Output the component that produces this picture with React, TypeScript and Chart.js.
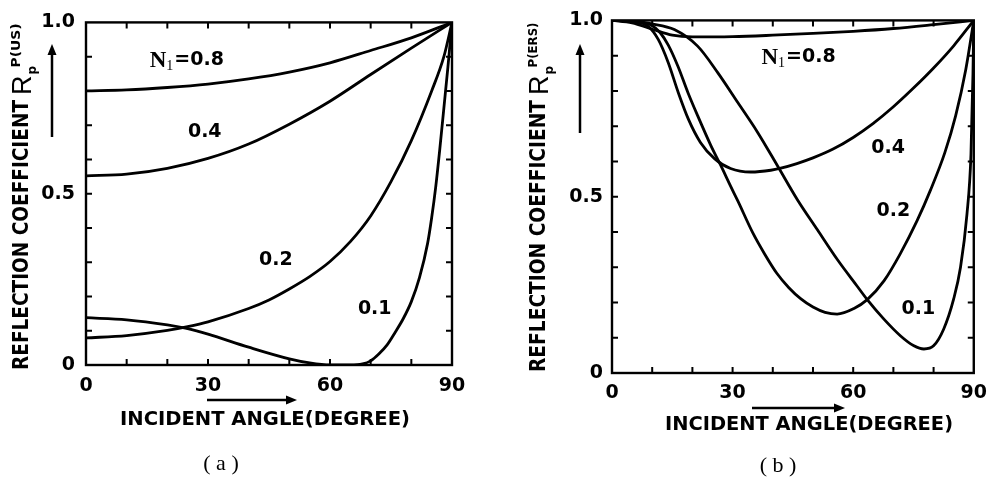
import React, { useEffect, useRef } from "react";
import { Chart, registerables } from "chart.js";
Chart.register(...registerables);

// ---------- Panel (a): R_p^{P(US)} ----------
const A_N08_DEG = [0, 10, 20, 30, 40, 50, 60, 70, 80, 90];
const A_N08_R = [0.8, 0.803, 0.81, 0.82, 0.835, 0.855, 0.882, 0.918, 0.955, 1.0];
const A_N04_DEG = [0, 10, 20, 30, 40, 50, 60, 70, 80, 90];
const A_N04_R = [0.552, 0.557, 0.574, 0.603, 0.645, 0.703, 0.77, 0.848, 0.925, 1.0];
const A_N02_DEG = [0, 10, 20, 25, 30, 40, 45, 50, 55, 60, 65, 70, 75, 80, 85, 88, 90];
const A_N02_R = [0.079, 0.086, 0.101, 0.112, 0.126, 0.165, 0.19, 0.222, 0.258, 0.302, 0.36, 0.435, 0.535, 0.655, 0.8, 0.9, 1.0];
const A_N01_DEG = [0, 10, 20, 25, 30, 40, 50, 55, 60, 65, 68, 70, 72, 74, 76, 78, 80, 82, 84, 85, 86, 87, 88, 89, 90];
const A_N01_R = [0.138, 0.132, 0.117, 0.106, 0.09, 0.052, 0.018, 0.006, 0.0, 0.0, 0.003, 0.012, 0.032, 0.058, 0.095, 0.135, 0.185, 0.255, 0.355, 0.43, 0.52, 0.63, 0.75, 0.87, 1.0];

// ---------- Panel (b): R_p^{P(ERS)} ----------
const B_N08_DEG = [0, 5, 10, 15, 20, 30, 40, 50, 60, 70, 80, 90];
const B_N08_R = [1.0, 0.993, 0.975, 0.958, 0.953, 0.954, 0.958, 0.963, 0.969, 0.977, 0.988, 1.0];
const B_N04_DEG = [0, 5, 9, 11.5, 14, 16.5, 19, 22, 25.5, 29.5, 34.5, 39.5, 42, 46, 50, 55, 60, 65, 70, 75, 80, 85, 90];
const B_N04_R = [1.0, 0.997, 0.983, 0.946, 0.88, 0.795, 0.72, 0.654, 0.608, 0.58, 0.57, 0.575, 0.581, 0.594, 0.61, 0.635, 0.668, 0.708, 0.755, 0.808, 0.865, 0.928, 1.0];
const B_N02_DEG = [0, 5, 10, 12, 14, 16.4, 18.9, 21.3, 24.6, 27, 29.5, 31.3, 35, 38, 41, 44, 47, 50, 53, 56, 60.2, 63.5, 67.7, 71.7, 75.9, 79.2, 82.8, 85.5, 88, 90];
const B_N02_R = [1.0, 0.997, 0.985, 0.965, 0.93, 0.87, 0.795, 0.73, 0.645, 0.59, 0.53, 0.488, 0.398, 0.337, 0.283, 0.242, 0.21, 0.187, 0.172, 0.167, 0.183, 0.208, 0.262, 0.338, 0.432, 0.518, 0.625, 0.73, 0.86, 1.0];
const B_N01_DEG = [0, 5, 10, 15.5, 21.3, 26.3, 31.3, 36.2, 41.2, 46.2, 51.1, 56.1, 61, 63.5, 67.7, 71.8, 75.1, 77.6, 80, 82.5, 85, 86.7, 88.3, 89.3, 89.8, 90];
const B_N01_R = [1.0, 0.998, 0.99, 0.974, 0.927, 0.852, 0.767, 0.683, 0.587, 0.49, 0.406, 0.321, 0.246, 0.208, 0.152, 0.105, 0.077, 0.068, 0.077, 0.124, 0.21, 0.3, 0.45, 0.62, 0.85, 1.0];

// curve labels: [text, angle, R]
const A_LABELS: [string, number, number][] = [
  ["N1=0.8", 24.8, 0.889],
  ["0.4", 29.2, 0.681],
  ["0.2", 46.7, 0.305],
  ["0.1", 71, 0.162],
];
const B_LABELS: [string, number, number][] = [
  ["N1=0.8", 46.4, 0.896],
  ["0.4", 68.7, 0.639],
  ["0.2", 70, 0.459],
  ["0.1", 76.2, 0.18],
];

const X_TICK_STEP = 10;
const X_LABELED = [0, 30, 60, 90];
const Y_TICK_STEP = 0.1;
const Y_LABELS: [number, string][] = [[0, "0"], [0.5, "0.5"], [1, "1.0"]];

const SANS = '"DejaVu Sans", "Liberation Sans", sans-serif';

function zip(xs: number[], ys: number[]) {
  return xs.map((x, i) => ({ x, y: ys[i] }));
}

function arrow(ctx: CanvasRenderingContext2D, x1: number, y1: number, x2: number, y2: number) {
  const ang = Math.atan2(y2 - y1, x2 - x1);
  const hl = 11, hw = 4.5;
  ctx.beginPath();
  ctx.moveTo(x1, y1);
  ctx.lineTo(x2 - Math.cos(ang) * hl * 0.8, y2 - Math.sin(ang) * hl * 0.8);
  ctx.stroke();
  ctx.beginPath();
  ctx.moveTo(x2, y2);
  ctx.lineTo(x2 - Math.cos(ang) * hl - Math.sin(ang) * hw, y2 - Math.sin(ang) * hl + Math.cos(ang) * hw);
  ctx.lineTo(x2 - Math.cos(ang) * hl + Math.sin(ang) * hw, y2 - Math.sin(ang) * hl - Math.cos(ang) * hw);
  ctx.closePath();
  ctx.fill();
}

const decorPlugin = {
  id: "decor",
  afterDraw(chart: any, _args: any, o: any) {
    const { ctx, chartArea: ca, scales } = chart;
    const xs = scales.x, ys = scales.y;
    ctx.save();
    ctx.strokeStyle = "#000";
    ctx.fillStyle = "#000";
    ctx.lineCap = "butt";
    // frame
    ctx.lineWidth = 2.4;
    ctx.strokeRect(ca.left, ca.top, ca.right - ca.left, ca.bottom - ca.top);
    // inward ticks on all four sides
    ctx.lineWidth = 2;
    const tl = 6;
    xs.ticks.forEach((t: any) => {
      if (t.value <= xs.min || t.value >= xs.max) return;
      const px = xs.getPixelForValue(t.value);
      ctx.beginPath();
      ctx.moveTo(px, ca.bottom); ctx.lineTo(px, ca.bottom - tl);
      ctx.moveTo(px, ca.top); ctx.lineTo(px, ca.top + tl);
      ctx.stroke();
    });
    ys.ticks.forEach((t: any) => {
      if (t.value <= ys.min + 1e-6 || t.value >= ys.max - 1e-6) return;
      const py = ys.getPixelForValue(t.value);
      ctx.beginPath();
      ctx.moveTo(ca.left, py); ctx.lineTo(ca.left + tl, py);
      ctx.moveTo(ca.right, py); ctx.lineTo(ca.right - tl, py);
      ctx.stroke();
    });

    // curve labels
    ctx.textBaseline = "middle";
    (o.labels as [string, number, number][]).forEach(([txt, d, r]) => {
      const px = xs.getPixelForValue(d);
      const py = ys.getPixelForValue(r);
      if (txt.startsWith("N1")) {
        const rest = txt.slice(2);
        ctx.font = 'bold 23px "Liberation Serif", serif';
        const wN = ctx.measureText("N").width;
        ctx.font = '14px "Liberation Serif", serif';
        const w1 = ctx.measureText("1").width;
        ctx.font = "bold 19px " + SANS;
        const wr = ctx.measureText(rest).width;
        const total = wN + w1 + 1 + wr;
        let x = px - total / 2;
        ctx.textAlign = "left";
        ctx.font = 'bold 23px "Liberation Serif", serif';
        ctx.fillText("N", x, py + 1);
        x += wN;
        ctx.font = '14px "Liberation Serif", serif';
        ctx.fillText("1", x, py + 6);
        x += w1 + 1;
        ctx.font = "bold 19px " + SANS;
        ctx.fillText(rest, x, py);
      } else {
        ctx.textAlign = "center";
        ctx.font = "bold 19px " + SANS;
        ctx.fillText(txt, px, py);
      }
    });

    // x-axis title + arrow
    ctx.font = "bold 20px " + SANS;
    ctx.textAlign = "center";
    const xt = "INCIDENT ANGLE(DEGREE)";
    const xw = ctx.measureText(xt).width;
    ctx.save();
    ctx.translate(o.xTitle.cx, o.xTitle.cy);
    ctx.scale(o.xTitle.len / xw, 1);
    ctx.fillText(xt, 0, 0);
    ctx.restore();
    ctx.lineWidth = 2.5;
    arrow(ctx, o.xArrow.x1, o.xArrow.y, o.xArrow.x2, o.xArrow.y);

    // y-axis title (rotated)
    ctx.save();
    ctx.translate(o.yTitle.cx, o.yTitle.y0);
    ctx.rotate(-Math.PI / 2);
    ctx.textAlign = "left";
    ctx.textBaseline = "middle";
    ctx.font = "bold 21px " + SANS;
    const yt = "REFLECTION COEFFICIENT";
    const yw = ctx.measureText(yt).width;
    ctx.save();
    ctx.scale(o.yTitle.len / yw, 1);
    ctx.fillText(yt, 0, 0);
    ctx.restore();
    let u = o.yTitle.len + 5;
    ctx.font = '27px "Liberation Sans", sans-serif';
    ctx.fillText("R", u, 1);
    u += ctx.measureText("R").width + 1;
    ctx.font = "bold 12px " + SANS;
    ctx.fillText("p", u, 10);
    u += 7;
    ctx.font = "bold 12px " + SANS;
    const sw = ctx.measureText(o.yTitle.sup).width;
    ctx.save();
    ctx.translate(u, -6);
    ctx.scale(o.yTitle.supLen / sw, 1);
    ctx.fillText(o.yTitle.sup, 0, 0);
    ctx.restore();
    ctx.restore();
    ctx.lineWidth = 2.5;
    arrow(ctx, o.yArrow.x, o.yArrow.y1, o.yArrow.x, o.yArrow.y2);

    // caption
    ctx.font = '22px "Liberation Serif", serif';
    ctx.textAlign = "center";
    ctx.textBaseline = "middle";
    ctx.fillText(o.caption.text, o.caption.x, o.caption.y);
    ctx.restore();
  },
};

function buildConfig(p: any) {
  const ds = (deg: number[], r: number[]) => ({
    data: zip(deg, r),
    borderColor: "#000",
    borderWidth: 2.8,
    pointRadius: 0,
    fill: false,
    cubicInterpolationMode: "monotone",
  });
  return {
    type: "line",
    data: { datasets: p.series.map(([d, r]: [number[], number[]]) => ds(d, r)) },
    options: {
      animation: false,
      responsive: false,
      devicePixelRatio: 1,
      events: [],
      layout: { padding: p.padding },
      plugins: {
        legend: { display: false },
        tooltip: { enabled: false },
        decor: p.decor,
      },
      scales: {
        x: {
          type: "linear",
          min: 0,
          max: 90,
          afterFit: (s: any) => { s.height = p.xHeight; },
          grid: { display: false, drawTicks: false },
          border: { display: false },
          ticks: {
            stepSize: X_TICK_STEP,
            autoSkip: false,
            maxRotation: 0,
            padding: p.xPad,
            color: "#000",
            font: { family: SANS, size: 19, weight: "bold" },
            callback: (v: number) => (X_LABELED.includes(Math.round(v)) ? String(Math.round(v)) : ""),
          },
        },
        y: {
          type: "linear",
          min: 0,
          max: 1,
          afterFit: (s: any) => { s.width = p.yWidth; },
          grid: { display: false, drawTicks: false },
          border: { display: false },
          ticks: {
            stepSize: Y_TICK_STEP,
            autoSkip: false,
            padding: p.yPad,
            color: "#000",
            font: { family: SANS, size: 19, weight: "bold" },
            callback: (v: number) => {
              const f = Y_LABELS.find(([k]) => Math.abs(k - v) < 1e-6);
              return f ? f[1] : "";
            },
          },
        },
      },
    },
    plugins: [decorPlugin],
  };
}

const PANEL_A = {
  series: [[A_N08_DEG, A_N08_R], [A_N04_DEG, A_N04_R], [A_N02_DEG, A_N02_R], [A_N01_DEG, A_N01_R]],
  padding: { left: 0, right: 46, top: 13, bottom: 0 },
  xHeight: 119,
  yWidth: 86,
  xPad: 10,
  yPad: 11,
  decor: {
    labels: A_LABELS,
    xTitle: { cx: 265, cy: 420, len: 290 },
    xArrow: { x1: 207, x2: 297, y: 400 },
    yTitle: { cx: 23, y0: 370, len: 270, sup: "P(US)", supLen: 44 },
    yArrow: { x: 52, y1: 137, y2: 44 },
    caption: { text: "( a )", x: 221, y: 464 },
  },
};

const PANEL_B = {
  series: [[B_N08_DEG, B_N08_R], [B_N04_DEG, B_N04_R], [B_N02_DEG, B_N02_R], [B_N01_DEG, B_N01_R]],
  padding: { left: 0, right: 21, top: 19, bottom: 0 },
  xHeight: 111,
  yWidth: 114,
  xPad: 9,
  yPad: 9,
  decor: {
    labels: B_LABELS,
    xTitle: { cx: 311, cy: 425, len: 288 },
    xArrow: { x1: 254, x2: 347, y: 408 },
    yTitle: { cx: 42, y0: 372, len: 272, sup: "P(ERS)", supLen: 45 },
    yArrow: { x: 82, y1: 133, y2: 44 },
    caption: { text: "( b )", x: 280, y: 466 },
  },
};

function Panel({ cfg, left }: { cfg: any; left: number }) {
  const ref = useRef<HTMLCanvasElement>(null);
  useEffect(() => {
    const chart = new Chart(ref.current as HTMLCanvasElement, buildConfig(cfg) as any);
    return () => chart.destroy();
  }, [cfg]);
  return (
    <canvas
      ref={ref}
      width={498}
      height={484}
      style={{ position: "absolute", left, top: 0, width: 498, height: 484 }}
    />
  );
}

export default function App() {
  return (
    <div style={{ position: "absolute", left: 0, top: 0, width: 996, height: 484, background: "#fff", overflow: "hidden" }}>
      <Panel cfg={PANEL_A} left={0} />
      <Panel cfg={PANEL_B} left={498} />
    </div>
  );
}
